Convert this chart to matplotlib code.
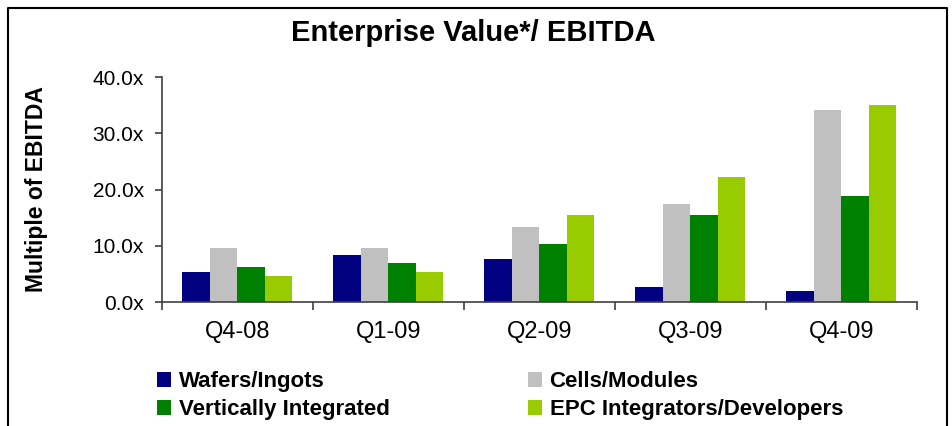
import matplotlib
matplotlib.use("Agg")
import matplotlib.pyplot as plt
import numpy as np
from matplotlib.patches import Patch
from matplotlib.lines import Line2D

plt.rcParams['font.family'] = ['Liberation Sans', 'DejaVu Sans']

quarters = ["Q4-08", "Q1-09", "Q2-09", "Q3-09", "Q4-09"]
wafers = [5.3, 8.4, 7.6, 2.7, 2.0]
cells = [9.6, 9.6, 13.3, 17.4, 34.1]
vertical = [6.2, 6.9, 10.3, 15.5, 18.8]
epc = [4.6, 5.3, 15.5, 22.2, 35.0]

series = [
    ("Wafers/Ingots", wafers, "#000080"),
    ("Cells/Modules", cells, "#C0C0C0"),
    ("Vertically Integrated", vertical, "#008000"),
    ("EPC Integrators/Developers", epc, "#99CC00"),
]

fig = plt.figure(figsize=(9.52, 4.26), dpi=100)
ax = fig.add_axes([0.170, 0.291, 0.793, 0.528])

x = np.arange(len(quarters))
w = 0.182
for i, (name, vals, col) in enumerate(series):
    ax.bar(x + (i - 1.5) * w, vals, width=w, color=col, label=name)

ax.set_xlim(-0.5, len(quarters) - 0.5)
ax.set_ylim(0, 40)
ax.set_yticks([0, 10, 20, 30, 40])
ax.set_yticklabels(["%.1fx" % v for v in [0, 10, 20, 30, 40]], fontsize=15)
ax.set_xticks(x)
ax.set_xticklabels(quarters, fontsize=17)
ax.tick_params(axis='x', length=0, pad=14)
ax.set_xticks(np.arange(len(quarters) + 1) - 0.5, minor=True)
ax.tick_params(axis='x', which='minor', length=6, width=1.2, color='#404040')
ax.tick_params(axis='y', length=5, width=1.2, color='#404040', pad=8)
for s in ['top', 'right']:
    ax.spines[s].set_visible(False)
for s in ['left', 'bottom']:
    ax.spines[s].set_color('#404040')
    ax.spines[s].set_linewidth(1.2)

fig.text(37 / 952, 1 - 189 / 426, "Multiple of EBITDA", rotation=90,
         ha='center', va='center', fontsize=16.5, fontweight='bold')

fig.text(0.497, 0.922, "Enterprise Value*/ EBITDA", ha='center', va='center',
         fontsize=21, fontweight='bold')

# legend: two single-column blocks
handles = [Patch(facecolor=c, edgecolor='none') for _, _, c in series]
kw = dict(loc='upper left', frameon=False, handlelength=0.62, handleheight=0.62,
          handletextpad=0.35, labelspacing=0.3, borderpad=0, borderaxespad=0,
          prop={'weight': 'bold', 'size': 16})
leg1 = fig.legend([handles[0], handles[2]], [series[0][0], series[2][0]],
                  bbox_to_anchor=(157 / 952, 0.128), **kw)
leg2 = fig.legend([handles[1], handles[3]], [series[1][0], series[3][0]],
                  bbox_to_anchor=(528 / 952, 0.128), **kw)

# outer frame
fig.add_artist(Line2D([0.008, 0.008, 0.995, 0.995], [0.0, 0.982, 0.982, 0.0],
                      transform=fig.transFigure, color='black', lw=1.5))

fig.savefig("out.png", dpi=100)
